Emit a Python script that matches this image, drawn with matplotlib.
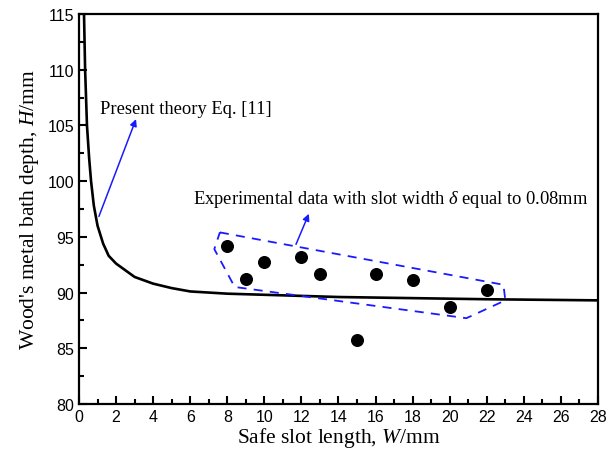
import numpy as np
import matplotlib.pyplot as plt
from matplotlib.ticker import MultipleLocator

plt.rcParams['mathtext.fontset'] = 'custom'
plt.rcParams['mathtext.rm'] = 'Liberation Serif'
plt.rcParams['mathtext.it'] = 'Liberation Serif:italic'

# theory curve
theory_w = [0.27, 0.33, 0.43, 0.55, 0.65, 0.8, 1.0, 1.3, 1.6, 2.0, 2.5, 3.0, 4.0, 5.0, 6.0, 8.0, 10.0, 14.0, 18.0, 22.0, 28.0]
theory_h = [115.0, 110.0, 105.0, 102.0, 100.0, 97.8, 96.0, 94.4, 93.3, 92.6, 92.0, 91.4, 90.8, 90.4, 90.1, 89.9, 89.8, 89.6, 89.5, 89.4, 89.3]

# experimental points
exp_w = [8, 9, 10, 12, 13, 15, 16, 18, 20, 22]
exp_h = [94.2, 91.2, 92.7, 93.2, 91.7, 85.7, 91.7, 91.1, 88.7, 90.2]

# dashed outline round the experimental points
box_w = [7.6, 22.9, 23.0, 20.9, 8.4, 7.3, 7.6]
box_h = [95.4, 90.7, 89.3, 87.7, 90.5, 93.9, 95.4]

fig = plt.figure(figsize=(6.11, 4.6), dpi=100)
ax = fig.add_axes([0.1293, 0.1196, 0.8494, 0.8478])

ax.plot(theory_w, theory_h, color='black', lw=1.9)
ax.scatter(exp_w, exp_h, s=70, color='black', zorder=3)
ax.plot(box_w, box_h, color='#1a1aff', lw=1.3, ls=(0, (5, 4)))

ax.annotate('', xy=(3.13, 105.8), xytext=(1.02, 96.6),
            arrowprops=dict(arrowstyle='-|>', color='#1a1aff', lw=1.1, mutation_scale=10))
ax.text(1.13, 106.5, 'Present theory Eq. [11]', family='Liberation Serif', fontsize=13.3, va='center')

ax.annotate('', xy=(12.46, 97.3), xytext=(11.65, 94.1),
            arrowprops=dict(arrowstyle='-|>', color='#1a1aff', lw=1.1, mutation_scale=10))
ax.text(6.15, 98.4, r'Experimental data with slot width $\delta$ equal to 0.08mm',
        family='Liberation Serif', fontsize=13.3, va='center')

ax.set_xlim(0, 28)
ax.set_ylim(80, 115)
ax.xaxis.set_major_locator(MultipleLocator(2))
ax.xaxis.set_minor_locator(MultipleLocator(1))
ax.yaxis.set_major_locator(MultipleLocator(5))
ax.yaxis.set_minor_locator(MultipleLocator(2.5))
ax.tick_params(which='both', direction='in', top=False, right=False, width=1.5,
               labelsize=11.5)
ax.tick_params(which='major', length=6)
ax.tick_params(which='minor', length=3.5)
for lab in ax.get_xticklabels() + ax.get_yticklabels():
    lab.set_family('Liberation Sans')
for s in ax.spines.values():
    s.set_linewidth(1.6)

ax.set_xlabel(r'Safe slot length, $W$/mm', family='Liberation Serif', fontsize=15.5, labelpad=1)
ax.set_ylabel(r"Wood's metal bath depth, $H$/mm", family='Liberation Serif', fontsize=15.5, labelpad=5)

fig.savefig('out.png', dpi=100)
